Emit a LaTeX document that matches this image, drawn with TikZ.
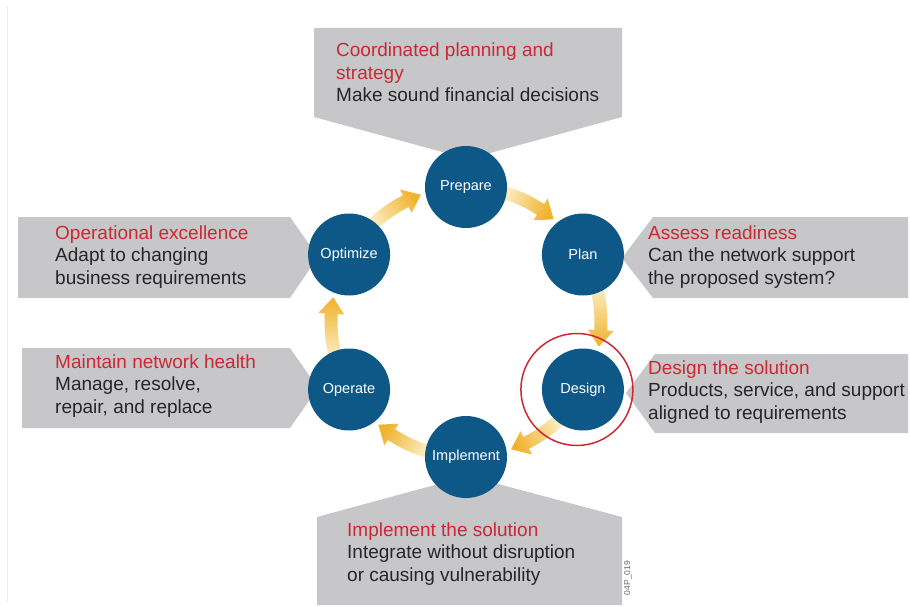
\documentclass[tikz,border=0pt]{standalone}
\usepackage{fontspec}
\setmainfont{Liberation Sans}
\usetikzlibrary{calc}

\definecolor{cycblue}{RGB}{14,88,136}
\definecolor{panelgray}{RGB}{199,199,202}
\definecolor{cisred}{RGB}{204,40,50}
\definecolor{notetext}{RGB}{38,38,38}
\definecolor{arrowtail}{RGB}{251,236,190}
\definecolor{arrowhead}{RGB}{240,178,45}

\begin{document}
\begin{tikzpicture}[
  x=1pt, y=1pt,
  phase/.style={circle, fill=cycblue, minimum size=82pt, inner sep=0pt,
                text=white, font=\fontsize{14.5}{18}\selectfont},
  panel/.style={fill=panelgray},
  % base west sits on the last of the three lines
  note/.style={anchor=base west, align=left, inner sep=0pt, text=notetext,
               font=\fontsize{19}{22.5}\selectfont}
]
\useasboundingbox (0,0) rectangle (910,-607);

% faint page edge
\draw[black!7, line width=1pt] (7,-5) -- (7,-602);

% grey panels, their points tucked under the circles
\fill[panel] (314,-28) -- (622,-28) -- (622,-117) -- (468,-159) -- (314,-117) -- cycle;
\fill[panel] (18,-217) -- (290,-217) -- (318,-257) -- (290,-298) -- (18,-298) -- cycle;
\fill[panel] (22,-348) -- (290,-348) -- (318,-388) -- (290,-428) -- (22,-428) -- cycle;
\fill[panel] (908,-217) -- (653,-217) -- (622,-258) -- (653,-298) -- (908,-298) -- cycle;
\fill[panel] (908,-354) -- (655,-354) -- (626,-393) -- (655,-433) -- (908,-433) -- cycle;
\fill[panel] (317,-517) -- (468,-476) -- (622,-517) -- (622,-605) -- (317,-605) -- cycle;

% centre of the cycle
\coordinate (hub) at (466,-322);

% fat ring arrows, tail angle / tip angle, running clockwise
\foreach \a/\b in {74/49.5, 14/-10.5, -46/-70.5, -106/-130.5, 194/169.5, 134/109.5}{
  \pgfmathsetmacro\shang{(\a+\b)/2+180}
  \shade[top color=arrowhead, bottom color=arrowtail, shading angle=\shang]
    ($(hub)+(\a:141.5)$) arc[start angle=\a, end angle=\b+7, radius=141.5]
    -- ($(hub)+(\b+7:148)$) -- ($(hub)+(\b:135)$) -- ($(hub)+(\b+7:122)$)
    -- ($(hub)+(\b+7:128.5)$) arc[start angle=\b+7, end angle=\a, radius=128.5]
    -- cycle;
}

% the six phases
\node[phase] (prepare)   at ($(hub)+(90:135)$)  {Prepare};
\node[phase] (plan)      at ($(hub)+(30:135)$)  {Plan};
\node[phase] (design)    at ($(hub)+(-30:135)$) {Design};
\node[phase] (implement) at ($(hub)+(-90:135)$) {Implement};
\node[phase] (operate)   at ($(hub)+(210:135)$) {Operate};
\node[phase] (optimize)  at ($(hub)+(150:135)$) {Optimize};

% highlight ring
\draw[cisred, line width=1.5pt] ($(design)+(-6,0)$) circle[radius=56];

% panel texts
\node[note] (preptext) at (336,-102)
  {\textcolor{cisred}{Coordinated planning and}\\\textcolor{cisred}{strategy}\\Make sound financial decisions};
\node[note] (opttext) at (55,-284)
  {\textcolor{cisred}{Operational excellence}\\Adapt to changing\\business requirements};
\node[note] (opertext) at (55,-413)
  {\textcolor{cisred}{Maintain network health}\\Manage, resolve,\\repair, and replace};
\node[note] (plantext) at (648,-284)
  {\textcolor{cisred}{Assess readiness}\\Can the network support\\the proposed system?};
\node[note] (desigtext) at (648,-419)
  {\textcolor{cisred}{Design the solution}\\Products, service, and support\\aligned to requirements};
\node[note] (impltext) at (347,-581)
  {\textcolor{cisred}{Implement the solution}\\Integrate without disruption\\or causing vulnerability};

% figure tag
\node[rotate=90, text=black!60, font=\fontsize{8.5}{9}\selectfont, inner sep=0pt] (tag)
  at (628,-578) {04P\_019};

\end{tikzpicture}
\end{document}
